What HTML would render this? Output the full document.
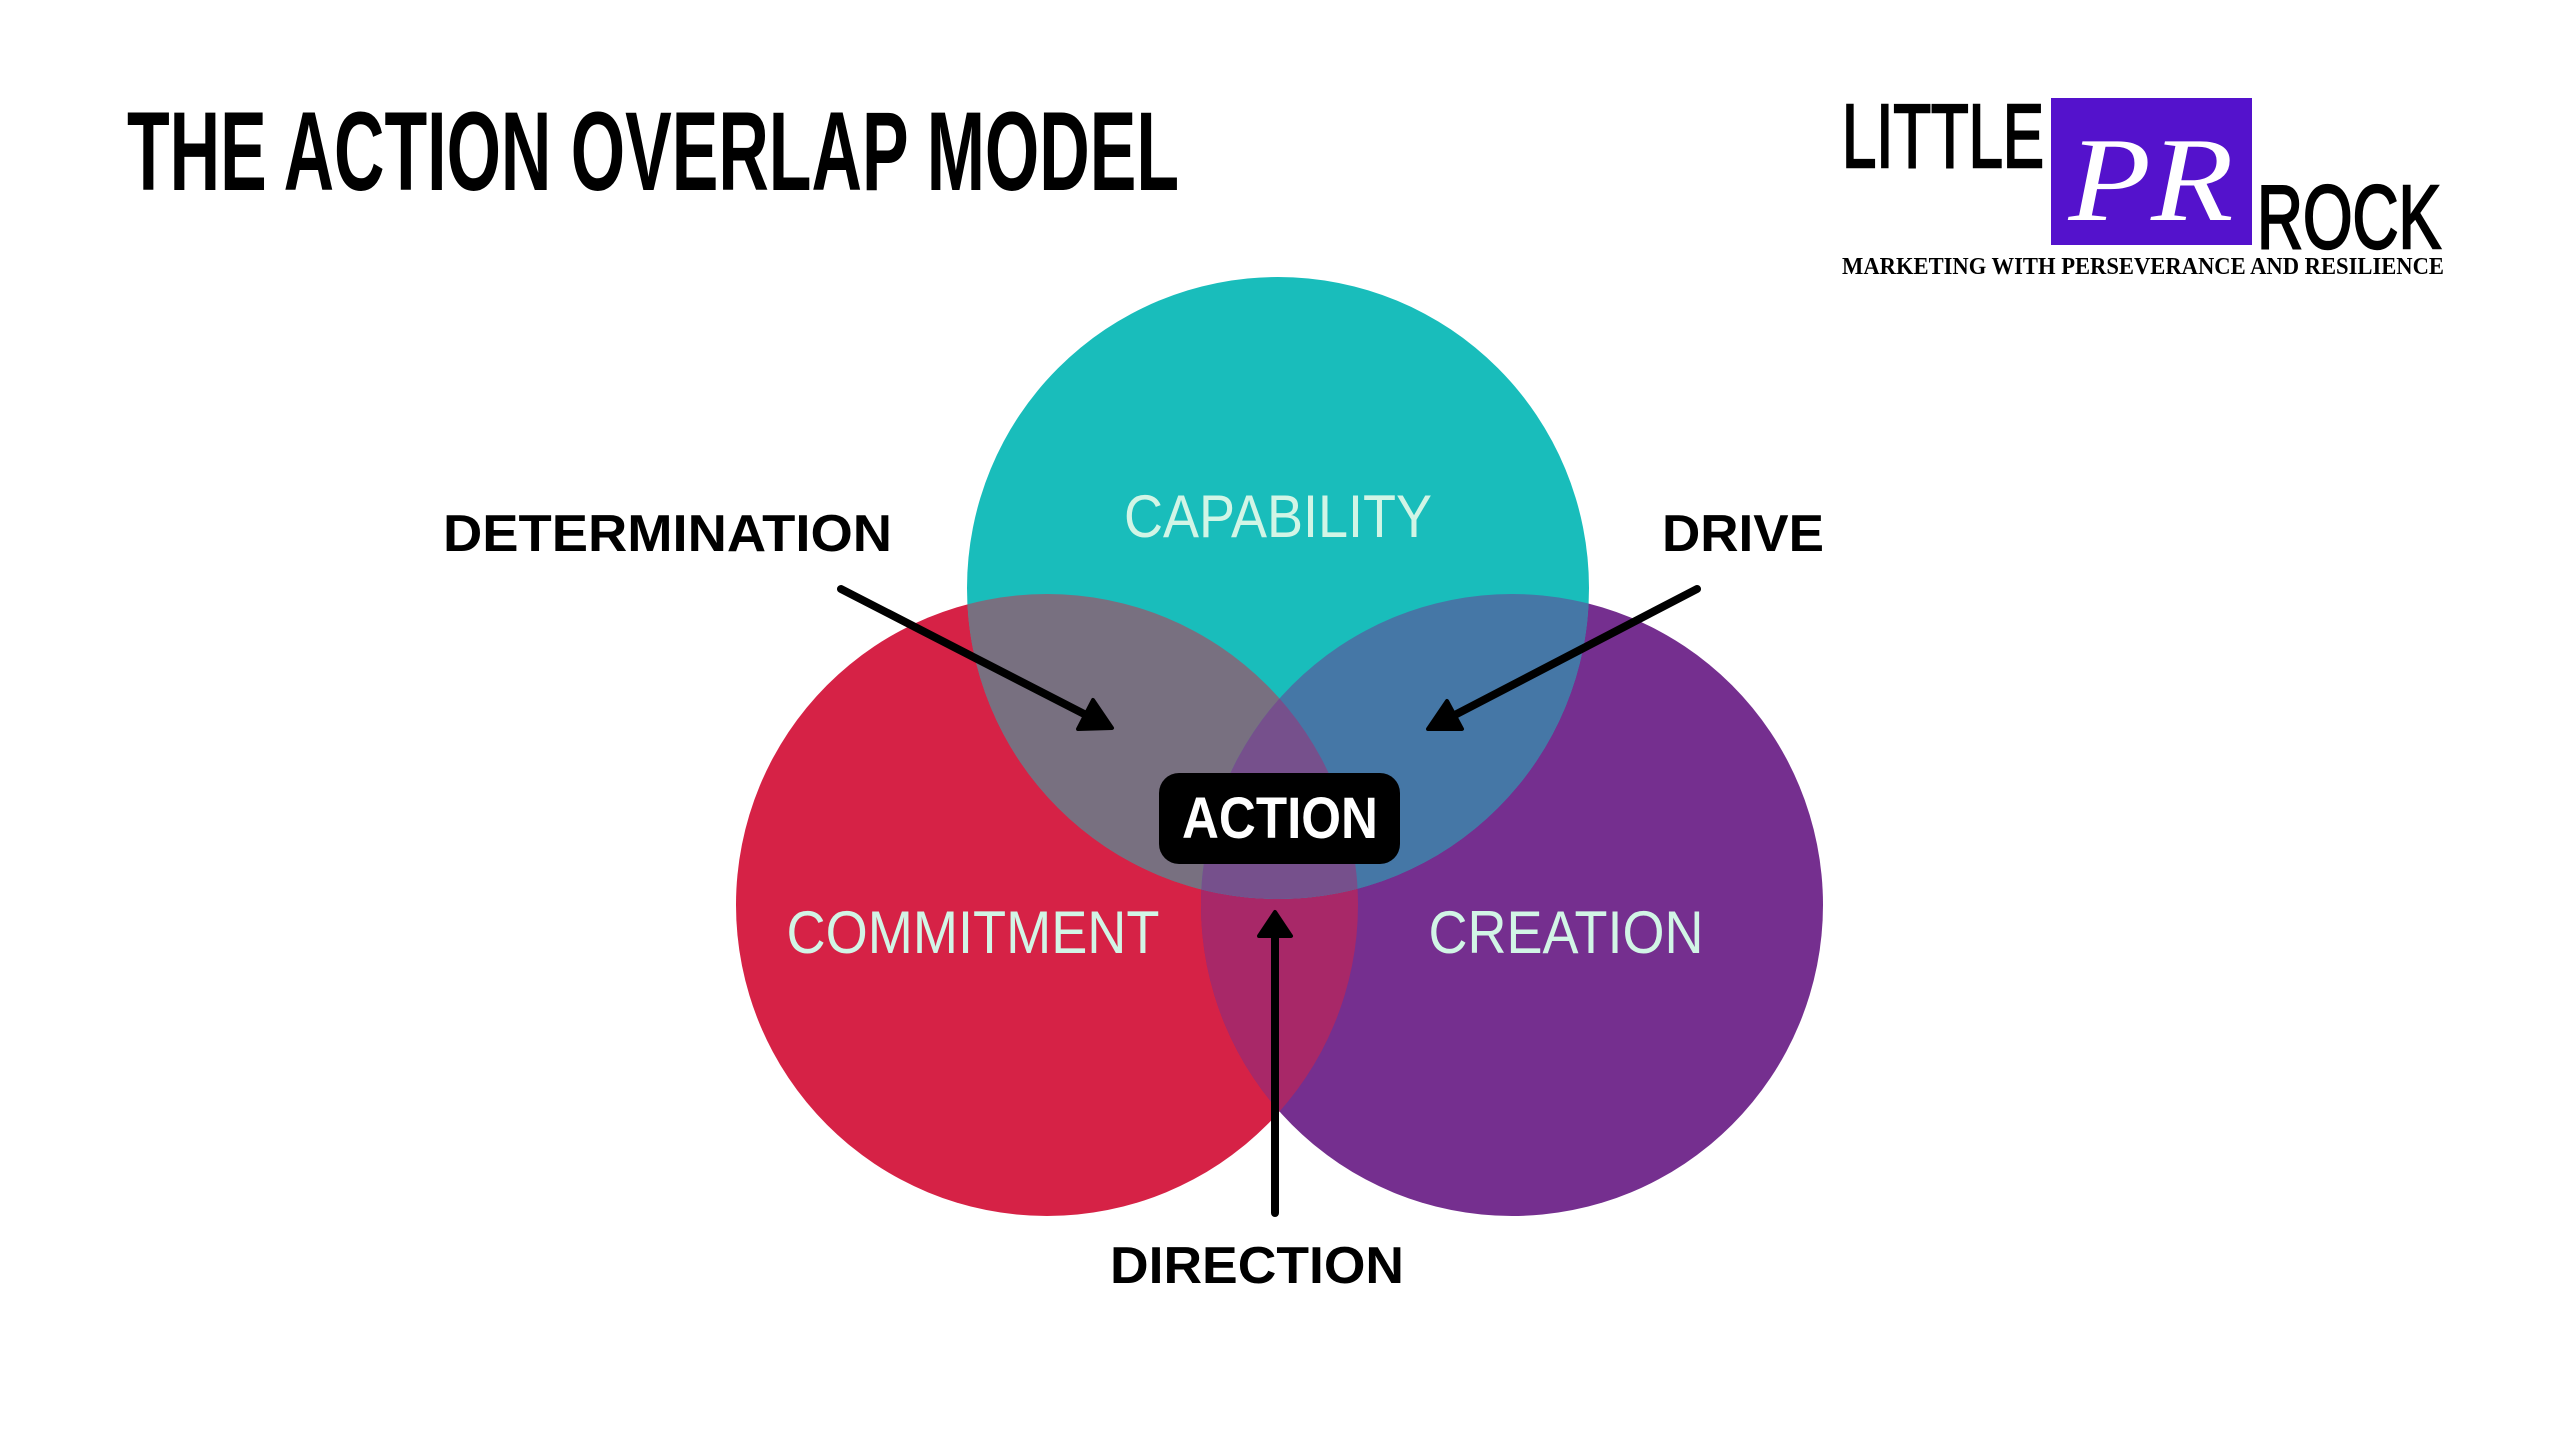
<!DOCTYPE html>
<html><head><meta charset="utf-8"><style>html,body{margin:0;padding:0;background:#fff}svg{display:block}</style></head>
<body>
<svg width="2560" height="1440" viewBox="0 0 2560 1440" xmlns="http://www.w3.org/2000/svg">
<defs>
<clipPath id="cT"><circle cx="1278" cy="588" r="311"/></clipPath>
<clipPath id="cR"><circle cx="1047" cy="905" r="311"/></clipPath>
</defs>
<rect width="2560" height="1440" fill="#fff"/>
<text x="127" y="190" font-family="Liberation Sans, sans-serif" font-weight="bold" font-size="112" textLength="1052" lengthAdjust="spacingAndGlyphs" fill="#000">THE ACTION OVERLAP MODEL</text>

<circle cx="1047" cy="905" r="311" fill="#D62246"/>
<circle cx="1512" cy="905" r="311" fill="#752F8F"/>
<g clip-path="url(#cR)"><circle cx="1512" cy="905" r="311" fill="#A82868"/></g>
<circle cx="1278" cy="588" r="311" fill="#19BDBB"/>
<g clip-path="url(#cT)"><circle cx="1047" cy="905" r="311" fill="#787080"/><circle cx="1512" cy="905" r="311" fill="#4577A6"/></g>
<g clip-path="url(#cT)"><g clip-path="url(#cR)"><circle cx="1512" cy="905" r="311" fill="#76508C"/></g></g>

<g font-family="Liberation Sans, sans-serif" font-size="60" fill="#D2F5E6" text-anchor="middle">
<text x="1278" y="537" textLength="308" lengthAdjust="spacingAndGlyphs">CAPABILITY</text>
<text x="973" y="953" textLength="373" lengthAdjust="spacingAndGlyphs">COMMITMENT</text>
<text x="1566" y="953" textLength="275" lengthAdjust="spacingAndGlyphs">CREATION</text>
</g>

<rect x="1159" y="773" width="241" height="91" rx="20" fill="#000"/>
<text x="1280" y="838" font-family="Liberation Sans, sans-serif" font-weight="bold" font-size="58" fill="#fff" text-anchor="middle" textLength="196" lengthAdjust="spacingAndGlyphs">ACTION</text>

<g font-family="Liberation Sans, sans-serif" font-weight="bold" font-size="52" fill="#000">
<text x="443" y="551" textLength="449" lengthAdjust="spacingAndGlyphs">DETERMINATION</text>
<text x="1662" y="551" textLength="162" lengthAdjust="spacingAndGlyphs">DRIVE</text>
<text x="1110" y="1283" textLength="294" lengthAdjust="spacingAndGlyphs">DIRECTION</text>
</g>

<g stroke="#000" stroke-width="8" stroke-linecap="round">
<line x1="841" y1="589" x2="1090" y2="717"/>
<line x1="1697" y1="589" x2="1449" y2="718"/>
<line x1="1275" y1="1213" x2="1275" y2="930"/>
</g>
<g fill="#000" stroke="#000" stroke-width="4" stroke-linejoin="round">
<polygon points="1112,728 1078,729 1093,700"/>
<polygon points="1428,729 1447,701 1462,729"/>
<polygon points="1275,912 1291,936 1259,936"/>
</g>

<text x="1842" y="167" font-family="Liberation Sans, sans-serif" font-size="90" textLength="202" lengthAdjust="spacingAndGlyphs" fill="#000" stroke="#000" stroke-width="2.5">LITTLE</text>
<rect x="2051" y="98" width="201" height="147" fill="#5412CC"/>
<text x="2151" y="220" font-family="Liberation Serif, serif" font-style="italic" font-size="120" fill="#fff" text-anchor="middle" textLength="165" lengthAdjust="spacingAndGlyphs">PR</text>
<text x="2257" y="248" font-family="Liberation Sans, sans-serif" font-size="90" textLength="184" lengthAdjust="spacingAndGlyphs" fill="#000" stroke="#000" stroke-width="2.5">ROCK</text>
<text x="1842" y="274" font-family="Liberation Serif, serif" font-weight="bold" font-size="24" textLength="602" lengthAdjust="spacingAndGlyphs" fill="#000">MARKETING WITH PERSEVERANCE AND RESILIENCE</text>
</svg>
</body></html>
